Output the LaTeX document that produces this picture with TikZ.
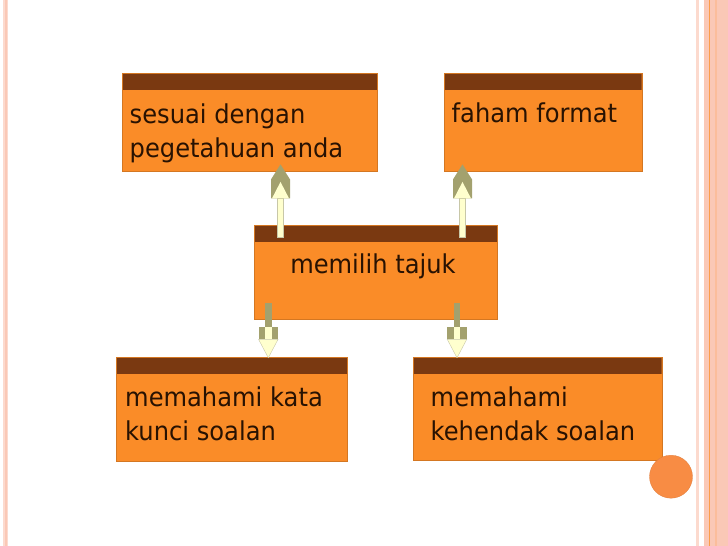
\documentclass[tikz,border=0pt]{standalone}
\usepackage{fontspec}
\setmainfont{DejaVu Sans}[FakeStretch=0.93]
\usetikzlibrary{calc}

\definecolor{boxorange}{RGB}{250,140,40}
\definecolor{bandbrown}{RGB}{122,57,17}
\definecolor{txtbrown}{RGB}{40,18,2}
\definecolor{olive}{RGB}{163,161,110}
\definecolor{cream}{RGB}{255,255,206}
\definecolor{pinkline}{RGB}{250,200,182}
\definecolor{palepink}{RGB}{252,218,206}
\definecolor{dotorange}{RGB}{248,140,68}

\begin{document}
\begin{tikzpicture}[x=1pt, y=-1pt]
	\tikzset{box/.style={rectangle, draw=boxorange!85!black, line width=0.4pt, fill=boxorange,
			anchor=north west, inner sep=0pt,
			path picture={\fill[bandbrown] (path picture bounding box.north west) rectangle ([yshift=-16.8pt]path picture bounding box.north east);}}};
	\tikzset{txt/.style={anchor=base west, inner sep=0pt, align=left, text=txtbrown,
			font=\fontsize{26}{33.8}\selectfont}};
	\tikzset{shaftup/.style={fill=cream, draw=olive!60, line width=0.4pt}};
	\tikzset{headol/.style={fill=olive, draw=none}};

	\useasboundingbox (0,0) rectangle (728,546);

	% slide frame
	\fill[palepink] (3.3,0) rectangle (8.3,546);
	\fill[pinkline] (4.7,0) rectangle (6.7,546);
	\fill[palepink] (696,0) rectangle (698.5,546);
	\fill[pinkline] (704,0) rectangle (728,546);
	\fill[orange!60!pinkline] (709,0) rectangle (710.2,546);
	\fill[pinkline!85!orange] (715,0) rectangle (717,546);

	% boxes
	\node[box, minimum width=255pt, minimum height=98pt] (kiri) at (122,72.5) {};
	\node[box, minimum width=197.5pt, minimum height=98pt] (kanan) at (444,72.5) {};
	\node[box, minimum width=243pt, minimum height=93.5pt] (tajuk) at (254,225) {};
	\node[box, minimum width=231pt, minimum height=103.5pt] (kata) at (116,357.3) {};
	\node[box, minimum width=249pt, minimum height=103pt] (kehendak) at (412.5,357.3) {};

	% texts (base = last line)
	\node[txt] (tkiri) at (129.5,157.6) {sesuai dengan\\pegetahuan anda};
	\node[txt] (tkanan) at (451.5,122.5) {faham format};
	\node[txt, anchor=base] (ttajuk) at (373,273.5) {memilih tajuk};
	\node[txt] (tkata) at (125,440.5) {memahami kata\\kunci soalan};
	\node[txt] (tkehendak) at (430.5,440.3) {memahami\\kehendak soalan};

	% arrow ends
	\coordinate (u1) at ($(tajuk.north west)+(26.5,11.7)$);
	\coordinate (u1t) at ($(kiri.south west)+(158.5,-6.5)$);
	\coordinate (u2) at ($(tajuk.north west)+(208.5,11.7)$);
	\coordinate (u2t) at ($(kanan.south west)+(18.5,-6.5)$);
	\coordinate (d1) at ($(tajuk.south west)+(14.3,-15.5)$);
	\coordinate (d1t) at ($(kata.north west)+(152.3,0.5)$);
	\coordinate (d2) at ($(tajuk.south west)+(203,-15.5)$);
	\coordinate (d2t) at ($(kehendak.north west)+(44.5,0.5)$);

	% up arrows
	\foreach \s/\t in {u1/u1t, u2/u2t}{
		\filldraw[shaftup] ($(\s)+(-3,0)$) rectangle ($(\t)+(3,34)$);
		\fill[headol] ($(\t)+(-9.5,34)$) -- ($(\t)+(-9.5,15)$) -- (\t) -- ($(\t)+(9.5,15)$) -- ($(\t)+(9.5,34)$) -- cycle;
		\fill[cream] ($(\t)+(-8.5,34)$) -- ($(\t)+(0,17.5)$) -- ($(\t)+(8.5,34)$) -- cycle;
	}

	% down arrows
	\foreach \s/\t in {d1/d1t, d2/d2t}{
		\fill[headol] ($(\s)+(-3.3,0)$) rectangle ($(\s)+(3.3,24)$);
		\fill[headol] ($(\s)+(-9.7,24)$) rectangle ($(\s)+(9.7,36)$);
		\fill[cream] ($(\s)+(-3.3,24)$) rectangle ($(\s)+(3.3,36)$);
		\filldraw[shaftup] ($(\s)+(-9.7,36)$) -- ($(\s)+(9.7,36)$) -- (\t) -- cycle;
	}

	% corner dot
	\node[circle, fill=dotorange, draw=dotorange!90!black, line width=0.3pt, minimum size=43pt, inner sep=0pt] (punkt) at (671,476.7) {};

\end{tikzpicture}
\end{document}
